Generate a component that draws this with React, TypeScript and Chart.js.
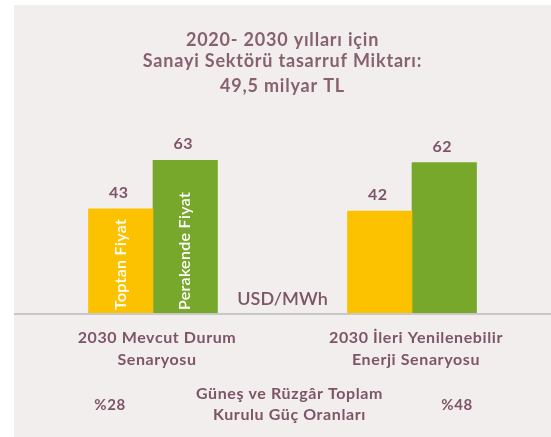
import React, { useEffect, useRef } from "react";
import { Chart, registerables } from "chart.js";

Chart.register(...registerables);

const titleLines = ["2020- 2030 yılları için", "Sanayi Sektörü tasarruf Miktarı:", "49,5 milyar TL"];
const categories = [
  ["2030 Mevcut Durum", "Senaryosu"],
  ["2030 İleri Yenilenebilir", "Enerji Senaryosu"],
];
const seriesNames = ["Toptan Fiyat", "Perakende Fiyat"];
const wholesale = [43, 42];
const retail = [63, 62];
const unitLabel = "USD/MWh";
const shareTitle = ["Güneş ve Rüzgâr Toplam", "Kurulu Güç Oranları"];
const shares = ["%28", "%48"];

const TEXT = "#7d5567";
const TITLE = "#876170";
const BG = "#f2eeee";
const FONT = "Lato, 'Open Sans', sans-serif";

const textPlugin = {
  id: "textPlugin",
  afterDraw(chart: any) {
    const ctx = chart.ctx as any;
    const W = chart.width;
    const y0 = chart.scales.y.getPixelForValue(0);
    ctx.save();
    // baseline
    ctx.fillStyle = "#c9c7c7";
    ctx.fillRect(0, y0, W, 2);

    // title
    ctx.fillStyle = TITLE;
    ctx.textAlign = "center";
    ctx.textBaseline = "alphabetic";
    ctx.font = `bold 18px ${FONT}`;
    ctx.letterSpacing = "0.8px";
    const tb = [41, 62, 87];
    titleLines.forEach((l, i) => ctx.fillText(l, W / 2, tb[i]));

    // value labels + inner labels
    chart.data.datasets.forEach((ds: any, di: number) => {
      const meta = chart.getDatasetMeta(di);
      meta.data.forEach((bar: any, i: number) => {
        ctx.fillStyle = TEXT;
        ctx.font = `bold 16px ${FONT}`;
        ctx.letterSpacing = "0.5px";
        ctx.textAlign = "center";
        ctx.textBaseline = "alphabetic";
        ctx.fillText(String(ds.data[i]), bar.x - 2, bar.y - 11);
        if (i === 0) {
          ctx.save();
          ctx.translate(bar.x, y0 - 3);
          ctx.rotate(-Math.PI / 2);
          ctx.fillStyle = "#ffffff";
          ctx.font = `600 16px ${FONT}`;
          ctx.letterSpacing = "0.3px";
          ctx.textAlign = "left";
          ctx.textBaseline = "middle";
          ctx.fillText(ds.label, 0, 0);
          ctx.restore();
        }
      });
    });

    // unit
    ctx.fillStyle = TEXT;
    ctx.textAlign = "center";
    ctx.textBaseline = "alphabetic";
    ctx.font = `600 18px ${FONT}`;
    ctx.letterSpacing = "0px";
    ctx.fillText(unitLabel, W / 2, 300);

    // categories
    ctx.font = `bold 16px ${FONT}`;
    ctx.letterSpacing = "0.6px";
    const xs = chart.scales.x;
    categories.forEach((c, i) => {
      const x = xs.getPixelForValue(i);
      ctx.fillText(c[0], x + 4, 338);
      ctx.fillText(c[1], x + 4, 360);
    });

    // shares
    ctx.fillText(shareTitle[0], W / 2 + 7, 394);
    ctx.fillText(shareTitle[1], W / 2 + 7, 415);
    ctx.font = `bold 15px ${FONT}`;
    ctx.fillText(shares[0], 96, 405);
    ctx.fillText(shares[1], 443, 405);
    ctx.restore();
  },
};

export default function App() {
  const ref = useRef<HTMLCanvasElement>(null);
  useEffect(() => {
    if (!ref.current) return;
    const chart = new Chart(ref.current, {
      type: "bar",
      data: {
        labels: categories.map((c) => c.join(" ")),
        datasets: [
          { label: seriesNames[0], data: wholesale, backgroundColor: "#fcc200", barThickness: 64.5 },
          { label: seriesNames[1], data: retail, backgroundColor: "#77a82b", barThickness: 64.5 },
        ],
      },
      options: {
        animation: false,
        responsive: false,
        layout: { padding: { left: 9.5, right: 9.5, top: 114, bottom: 124 } },
        plugins: { legend: { display: false }, tooltip: { enabled: false }, title: { display: false } },
        scales: {
          x: { display: false, offset: true },
          y: { display: false, min: 0, max: 80 },
        },
      },
      plugins: [textPlugin],
    });
    return () => chart.destroy();
  }, []);
  return (
    <div style={{ position: "absolute", left: 14, top: 5, width: 537, height: 432, background: BG }}>
      <canvas ref={ref} width={537} height={432} style={{ display: "block", width: 537, height: 432 }} />
    </div>
  );
}
